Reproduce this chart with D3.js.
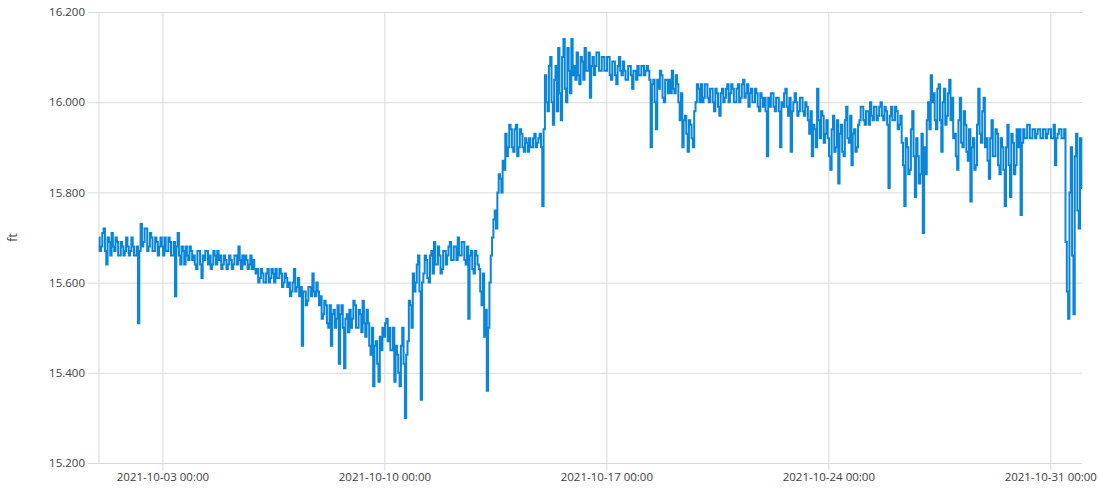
<!DOCTYPE html>
<html>
<head>
<meta charset="utf-8">
<script src="https://cdn.jsdelivr.net/npm/d3@7"></script>
<style>
  body { margin: 0; background: #fff; }
  text { font-family: "Open Sans", sans-serif; fill: #404040; }
</style>
</head>
<body>
<div id="chart"></div>
<script>
// ft readings from 2021-10-01 00:00, one row per day
// "even" arrays: 00:00, 02:00 ... 22:00 ; "odd" arrays: 01:00, 03:00 ... 23:00
const oct01to07 = [
  15.70, 15.68, 15.72, 15.64, 15.69, 15.71, 15.67, 15.69, 15.66, 15.68, 15.67, 15.68,
  15.67, 15.68, 15.66, 15.51, 15.73, 15.69, 15.72, 15.68, 15.70, 15.67, 15.69, 15.68,
  15.68, 15.70, 15.67, 15.69, 15.66, 15.57, 15.71, 15.64, 15.67, 15.68, 15.65, 15.67,
  15.66, 15.63, 15.67, 15.61, 15.65, 15.67, 15.66, 15.64, 15.66, 15.67, 15.66, 15.64,
  15.65, 15.64, 15.65, 15.64, 15.66, 15.68, 15.63, 15.64, 15.65, 15.64, 15.63, 15.63,
  15.63, 15.61, 15.62, 15.60, 15.63, 15.61, 15.62, 15.63, 15.61, 15.62, 15.60, 15.61,
  15.60, 15.58, 15.63, 15.59, 15.57, 15.46, 15.58, 15.56, 15.59, 15.62, 15.57, 15.58
];
const oct01to07Odd = [
  15.67, 15.71, 15.67, 15.70, 15.66, 15.68, 15.70, 15.66, 15.69, 15.66, 15.70, 15.66,
  15.70, 15.66, 15.68, 15.67, 15.68, 15.72, 15.67, 15.71, 15.67, 15.70, 15.66, 15.70,
  15.66, 15.67, 15.70, 15.66, 15.69, 15.68, 15.66, 15.68, 15.64, 15.66, 15.68, 15.65,
  15.64, 15.67, 15.64, 15.66, 15.67, 15.64, 15.63, 15.67, 15.64, 15.65, 15.63, 15.66,
  15.63, 15.66, 15.63, 15.66, 15.64, 15.65, 15.66, 15.66, 15.63, 15.66, 15.65, 15.62,
  15.60, 15.63, 15.60, 15.62, 15.60, 15.63, 15.60, 15.61, 15.63, 15.59, 15.62, 15.59,
  15.57, 15.60, 15.58, 15.61, 15.59, 15.58, 15.55, 15.59, 15.57, 15.58, 15.60, 15.55
];
const oct08to14 = [
  15.57, 15.53, 15.55, 15.50, 15.46, 15.54, 15.52, 15.42, 15.55, 15.41, 15.53, 15.54,
  15.52, 15.55, 15.50, 15.53, 15.56, 15.48, 15.51, 15.44, 15.37, 15.47, 15.38, 15.45,
  15.48, 15.52, 15.50, 15.45, 15.38, 15.44, 15.37, 15.50, 15.30, 15.47, 15.55, 15.62,
  15.60, 15.66, 15.34, 15.62, 15.65, 15.60, 15.67, 15.69, 15.64, 15.66, 15.63, 15.67,
  15.66, 15.69, 15.65, 15.68, 15.70, 15.66, 15.69, 15.64, 15.52, 15.67, 15.62, 15.66,
  15.63, 15.55, 15.48, 15.36, 15.60, 15.70, 15.76, 15.80, 15.83, 15.87, 15.93, 15.90,
  15.94, 15.89, 15.95, 15.90, 15.93, 15.89, 15.91, 15.92, 15.90, 15.93, 15.91, 15.93
];
const oct08to14Odd = [
  15.52, 15.56, 15.51, 15.55, 15.53, 15.50, 15.55, 15.53, 15.50, 15.52, 15.49, 15.50,
  15.56, 15.50, 15.54, 15.49, 15.51, 15.54, 15.46, 15.50, 15.46, 15.42, 15.48, 15.50,
  15.51, 15.47, 15.45, 15.50, 15.46, 15.40, 15.46, 15.42, 15.44, 15.56, 15.50, 15.58,
  15.64, 15.58, 15.60, 15.66, 15.61, 15.66, 15.62, 15.64, 15.68, 15.62, 15.67, 15.64,
  15.68, 15.65, 15.68, 15.65, 15.66, 15.69, 15.65, 15.68, 15.66, 15.63, 15.67, 15.64,
  15.58, 15.62, 15.54, 15.50, 15.66, 15.74, 15.72, 15.84, 15.80, 15.85, 15.88, 15.95,
  15.90, 15.94, 15.88, 15.94, 15.90, 15.92, 15.89, 15.90, 15.92, 15.90, 15.92, 15.90
];
const oct15to21 = [
  15.77, 16.06, 15.98, 16.10, 15.95, 16.08, 16.12, 15.96, 16.14, 16.00, 16.07, 16.14,
  16.08, 16.11, 16.04, 16.09, 16.12, 16.07, 16.01, 16.10, 16.08, 16.11, 16.07, 16.10,
  16.07, 16.10, 16.05, 16.09, 16.04, 16.10, 16.06, 16.07, 16.05, 16.08, 16.03, 16.07,
  16.08, 16.06, 16.08, 16.07, 16.07, 15.90, 16.05, 15.94, 16.03, 16.06, 16.00, 16.05,
  16.05, 16.07, 16.02, 16.04, 15.96, 15.90, 15.97, 15.89, 15.95, 15.90, 16.00, 16.03,
  16.04, 16.01, 16.04, 16.00, 16.03, 15.98, 16.02, 15.97, 16.03, 16.01, 16.04, 16.02,
  16.03, 16.00, 16.04, 16.01, 16.05, 16.02, 15.99, 16.03, 16.00, 16.02, 15.98, 16.01
];
const oct15to21Odd = [
  15.94, 16.00, 16.08, 16.00, 16.05, 15.98, 16.02, 16.10, 16.03, 16.12, 16.02, 16.06,
  16.05, 16.06, 16.10, 16.05, 16.07, 16.11, 16.08, 16.06, 16.11, 16.07, 16.10, 16.07,
  16.10, 16.06, 16.09, 16.06, 16.08, 16.07, 16.09, 16.05, 16.08, 16.06, 16.07, 16.05,
  16.06, 16.08, 16.06, 16.08, 16.05, 16.04, 16.00, 16.05, 16.07, 16.01, 16.05, 16.02,
  16.02, 16.03, 16.06, 16.00, 16.02, 15.96, 15.93, 15.96, 15.92, 15.98, 16.04, 16.00,
  16.00, 16.04, 16.01, 16.03, 16.00, 16.03, 15.99, 16.02, 16.00, 16.03, 16.00, 16.04,
  16.00, 16.03, 16.00, 16.04, 16.01, 16.04, 16.02, 16.00, 16.03, 15.99, 16.02, 15.99
];
const oct22to28 = [
  16.01, 15.88, 15.99, 16.02, 15.98, 16.01, 15.90, 15.99, 16.03, 15.97, 15.89, 16.00,
  16.00, 15.98, 16.01, 15.97, 15.99, 15.93, 15.88, 15.94, 16.03, 15.92, 15.97, 15.93,
  15.92, 15.85, 15.97, 15.90, 15.82, 15.95, 15.88, 15.99, 15.91, 15.86, 15.94, 15.90,
  15.96, 15.99, 15.95, 15.98, 16.00, 15.96, 15.99, 15.97, 16.00, 15.96, 15.98, 15.81,
  15.99, 15.96, 15.98, 15.95, 15.91, 15.77, 15.90, 15.85, 15.98, 15.79, 15.88, 15.84,
  15.71, 15.84, 16.00, 16.06, 16.02, 15.94, 16.04, 15.89, 16.03, 15.97, 16.05, 16.01,
  15.93, 15.85, 16.01, 15.90, 15.95, 15.87, 15.78, 15.92, 15.86, 16.03, 15.91, 16.01
];
const oct22to28Odd = [
  15.98, 16.01, 16.02, 15.99, 16.01, 15.98, 16.00, 16.02, 15.99, 16.01, 15.98, 16.02,
  15.97, 16.01, 15.98, 16.00, 15.96, 15.98, 15.95, 15.90, 15.96, 15.98, 15.91, 15.96,
  15.88, 15.94, 15.89, 15.96, 15.93, 15.89, 15.96, 15.92, 15.97, 15.93, 15.89, 15.95,
  15.99, 15.96, 15.98, 15.95, 15.97, 15.99, 15.96, 15.99, 15.97, 15.99, 15.95, 15.97,
  15.96, 15.99, 15.94, 15.97, 15.86, 15.92, 15.84, 15.94, 15.88, 15.92, 15.82, 15.93,
  15.90, 15.96, 15.94, 16.00, 15.96, 16.03, 15.96, 16.00, 15.95, 16.02, 15.96, 15.92,
  15.88, 15.96, 15.91, 15.98, 15.89, 15.94, 15.90, 15.85, 15.95, 15.93, 15.98, 15.90
];
const oct29to31 = [
  15.92, 15.83, 15.96, 15.88, 15.93, 15.84, 15.90, 15.77, 15.95, 15.79, 15.91, 15.86,
  15.90, 15.75, 15.94, 15.92, 15.95, 15.92, 15.94, 15.93, 15.94, 15.92, 15.94, 15.93,
  15.94, 15.92, 15.86, 15.93, 15.94, 15.92, 15.69, 15.52, 15.90, 15.53, 15.93, 15.72,
  15.81
];
const oct29to31Odd = [
  15.87, 15.92, 15.88, 15.94, 15.86, 15.92, 15.85, 15.90, 15.86, 15.93, 15.84, 15.94,
  15.94, 15.91, 15.92, 15.95, 15.92, 15.94, 15.92, 15.94, 15.92, 15.94, 15.92, 15.94,
  15.92, 15.95, 15.92, 15.94, 15.92, 15.94, 15.58, 15.80, 15.66, 15.88, 15.76, 15.92
];
const yTicks = [15.2, 15.4, 15.6, 15.8, 16.0, 16.2];
const xTickDays = ["2021-10-03", "2021-10-10", "2021-10-17", "2021-10-24", "2021-10-31"];

const width = 1099, height = 489;
const margin = { top: 12, right: 17, bottom: 26, left: 99 };
const start = new Date(2021, 9, 1);
const end = new Date(2021, 10, 1);

const even = [...oct01to07, ...oct08to14, ...oct15to21, ...oct22to28, ...oct29to31];
const odd = [...oct01to07Odd, ...oct08to14Odd, ...oct15to21Odd, ...oct22to28Odd, ...oct29to31Odd];
const data = [
    ...even.map((v, i) => ({ date: d3.timeHour.offset(start, i * 2), value: v })),
    ...odd.map((v, i) => ({ date: d3.timeHour.offset(start, i * 2 + 1), value: v }))
].sort((a, b) => a.date - b.date);
const xTicks = xTickDays.map(d => d3.timeParse("%Y-%m-%d")(d));

const svg = d3.select("#chart").append("svg")
    .attr("width", width)
    .attr("height", height);

const x = d3.scaleTime()
    .domain([start, end])
    .range([margin.left, width - margin.right]);
const y = d3.scaleLinear()
    .domain([15.2, 16.2])
    .range([height - margin.bottom, margin.top]);

// y grid + labels
const gy = svg.append("g")
    .attr("transform", `translate(${margin.left},0)`)
    .call(d3.axisLeft(y).tickValues(yTicks).tickFormat(d3.format(".3f"))
        .tickSize(-(width - margin.left - margin.right)).tickPadding(14));
gy.select(".domain").remove();
gy.selectAll(".tick line").attr("stroke", "#d9d9d9").attr("x1", -11);
gy.selectAll(".tick text").style("font-size", "11.5px").attr("x", -14);

// x grid + labels
const gx = svg.append("g")
    .attr("transform", `translate(0,${height - margin.bottom})`)
    .call(d3.axisBottom(x).tickValues(xTicks).tickFormat(d3.timeFormat("%Y-%m-%d %H:%M"))
        .tickSize(-(height - margin.top - margin.bottom)).tickPadding(10));
gx.select(".domain").remove();
gx.selectAll(".tick line").attr("stroke", "#d9d9d9").attr("y1", 7);
gx.selectAll(".tick text").style("font-size", "11.5px").attr("y", 10);

// left edge line
svg.append("line")
    .attr("x1", margin.left).attr("x2", margin.left)
    .attr("y1", margin.top).attr("y2", height - margin.bottom)
    .attr("stroke", "#d9d9d9");

svg.append("text")
    .attr("transform", `translate(17,${(margin.top + height - margin.bottom) / 2}) rotate(-90)`)
    .attr("text-anchor", "middle")
    .style("font-size", "12px")
    .text("ft");

const line = d3.line()
    .curve(d3.curveStep)
    .x(d => x(d.date))
    .y(d => y(d.value));

svg.append("path")
    .datum(data)
    .attr("fill", "none")
    .attr("stroke", "#0a85d9")
    .attr("stroke-width", 2)
    .attr("stroke-linejoin", "miter")
    .attr("d", line);
</script>
</body>
</html>
